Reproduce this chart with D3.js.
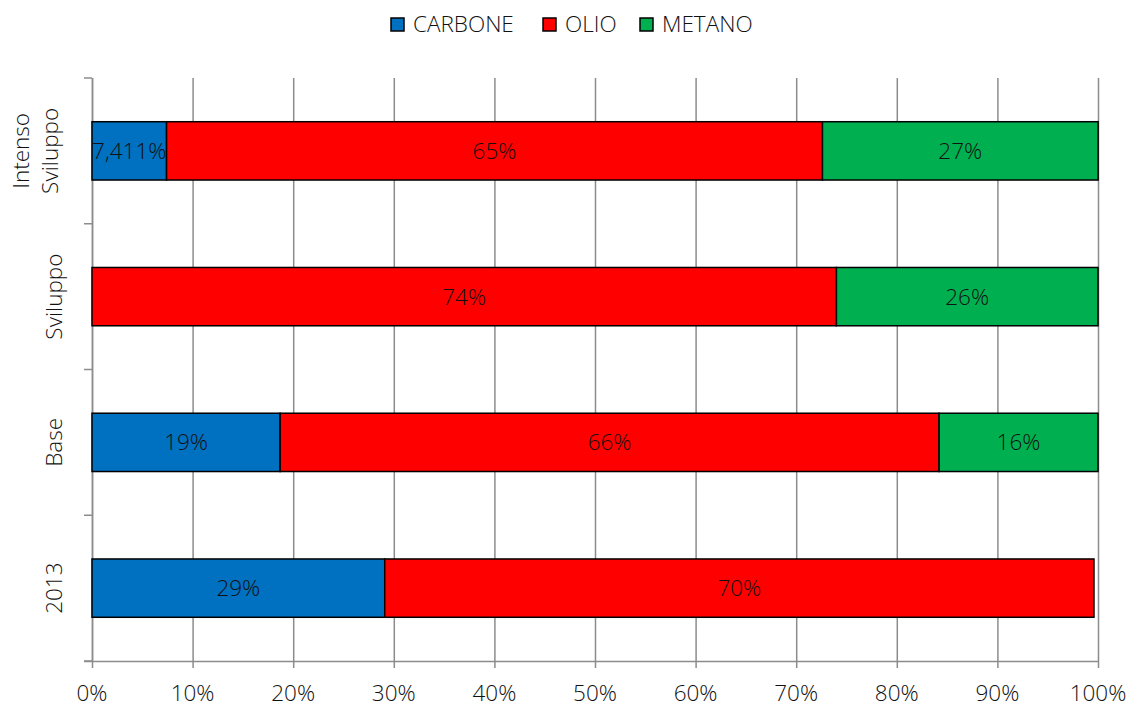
<!DOCTYPE html>
<html><head><meta charset="utf-8">
<script src="https://cdn.jsdelivr.net/npm/d3@7"></script>
<style>body{margin:0;background:#fff;} text{font-family:"Open Sans",sans-serif;font-weight:300;fill:#111;}</style>
</head><body><svg id="c" width="1131" height="709"></svg>
<script>
const categories = ["2013", "Base", "Sviluppo", "Intenso Sviluppo"];
const seriesNames = ["CARBONE", "OLIO", "METANO"];
const colors = ["#0070C0", "#FF0000", "#00B050"];
const carbone = [29.1, 18.7, 0, 7.411];
const olio = [70.5, 65.5, 74.0, 65.2];
const metano = [0, 15.8, 26.0, 27.4];
const carboneLabels = ["29%", "19%", "", "7,411%"];
const olioLabels = ["70%", "66%", "74%", "65%"];
const metanoLabels = ["", "16%", "26%", "27%"];
const xTicks = [0,10,20,30,40,50,60,70,80,90,100];

const FS = 22.5;
const svg = d3.select("#c");
const L = 92, R = 1098, T = 78, B = 661;
const x = d3.scaleLinear().domain([0,100]).range([L,R]);
const y = d3.scaleBand().domain(categories.slice().reverse()).range([T,B]).paddingInner(0.6).paddingOuter(0.3);
const band = (B - T) / categories.length;

// gridlines
svg.append("g").selectAll("line").data(xTicks).join("line")
  .attr("x1", d=>x(d)+0.5).attr("x2", d=>x(d)+0.5).attr("y1", T).attr("y2", B+7)
  .attr("stroke", "#8c8c8c").attr("stroke-width", 1.5);
// x axis line
svg.append("line").attr("x1", L-8).attr("x2", R).attr("y1", B+0.5).attr("y2", B+0.5).attr("stroke", "#8c8c8c").attr("stroke-width",1.5);
// y axis line and ticks
svg.append("line").attr("x1", L+0.5).attr("x2", L+0.5).attr("y1", T).attr("y2", B).attr("stroke", "#8c8c8c").attr("stroke-width",1.5);
svg.append("g").selectAll("line").data(d3.range(categories.length+1)).join("line")
  .attr("x1", L-8).attr("x2", L).attr("y1", i=>T+i*band).attr("y2", i=>T+i*band)
  .attr("stroke", "#8c8c8c").attr("stroke-width",1.5);

// x tick labels
svg.append("g").selectAll("text").data(xTicks).join("text")
  .attr("x", d=>x(d)).attr("y", 701).attr("text-anchor","middle").attr("font-size", FS)
  .text(d=>d+"%");

// stacked bars
const values = [carbone, olio, metano];
const labels = [carboneLabels, olioLabels, metanoLabels];
categories.forEach((c, ci) => {
  let acc = 0;
  values.forEach((arr, si) => {
    const v = arr[ci];
    if (v > 0) {
      const x0 = x(acc), x1 = x(acc+v);
      svg.append("rect").attr("x", x0).attr("y", y(c)).attr("width", x1-x0).attr("height", y.bandwidth())
        .attr("fill", colors[si]).attr("stroke", "#000").attr("stroke-width", 1.5);
      svg.append("text").attr("x", (x0+x1)/2).attr("y", y(c)+y.bandwidth()/2+8)
        .attr("text-anchor","middle").attr("font-size", FS).text(labels[si][ci]);
    }
    acc += v;
  });
});

// category labels (rotated)
categories.forEach(c => {
  const cy = y(c) + y.bandwidth()/2;
  const words = c.split(" ");
  const base = words.length > 1 ? 29 : 62;
  const g = svg.append("g").attr("transform", `translate(${base},${cy}) rotate(-90)`);
  words.forEach((w, i) => {
    g.append("text").attr("x", 0).attr("y", i*29).attr("text-anchor","middle")
      .attr("font-size", FS).text(w);
  });
});

// legend
const leg = [{x:391, t:413}, {x:543, t:565}, {x:640, t:662}];
seriesNames.forEach((s, i) => {
  svg.append("rect").attr("x", leg[i].x).attr("y", 18).attr("width", 13).attr("height", 13)
    .attr("fill", colors[i]).attr("stroke", "#000").attr("stroke-width", 1.5);
  svg.append("text").attr("x", leg[i].t).attr("y", 32).attr("font-size", FS).text(s);
});
</script></body></html>
